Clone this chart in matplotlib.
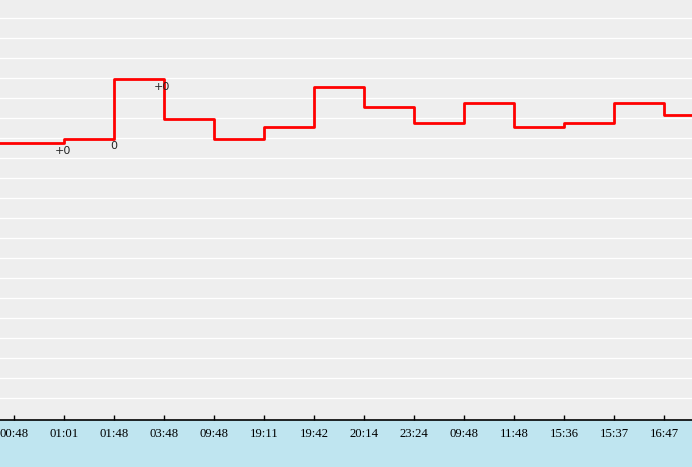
import matplotlib.pyplot as plt

# tick labels (times) and step levels
times = ['00:48', '01:01', '01:48', '03:48', '09:48', '19:11', '19:42',
         '20:14', '23:24', '09:48', '11:48', '15:36', '15:37', '16:47']
levels = [13.77, 13.97, 16.97, 14.97, 13.97, 14.57, 16.57,
          15.57, 14.77, 15.77, 14.57, 14.77, 15.77, 15.19]

# small labels on the line
ann_x = [0.98, 2.0, 2.96]
ann_y = [13.38, 13.6, 16.58]
ann_text = ['+0', '0', '+0']

fig = plt.figure(figsize=(6.92, 4.67), dpi=100)
fig.patch.set_facecolor('#bfe5f0')
ax = fig.add_axes([0, 47 / 467, 1, 420 / 467])
ax.set_facecolor('#eeeeee')

x_left, x_right = -0.28, 13.56
xs = [x_left] + list(range(len(levels))) + [x_right]
ys = [levels[0]] + levels + [levels[-1]]
ax.plot(xs, ys, drawstyle='steps-post', color='#ff0000', lw=2, zorder=3)

for x, y, t in zip(ann_x, ann_y, ann_text):
    ax.text(x, y, t, ha='center', va='center', fontsize=8,
            family='DejaVu Sans', color='#222222', zorder=4)

ax.set_xlim(x_left, x_right)
ax.set_ylim(-0.085, 20.915)
ax.set_yticks(range(1, 21))
ax.yaxis.grid(True, color='white', lw=0.9)
ax.set_axisbelow(True)
ax.tick_params(axis='y', left=False, labelleft=False)

ax.set_xticks(range(len(times)))
ax.set_xticklabels(times, family='Liberation Serif', fontsize=9.2)
ax.tick_params(axis='x', direction='in', length=3.5, width=1,
               color='black', pad=6)

for s in ['left', 'right', 'top']:
    ax.spines[s].set_visible(False)
ax.spines['bottom'].set_color('black')
ax.spines['bottom'].set_linewidth(1.2)

fig.savefig('out.png', dpi=100, facecolor=fig.get_facecolor())
